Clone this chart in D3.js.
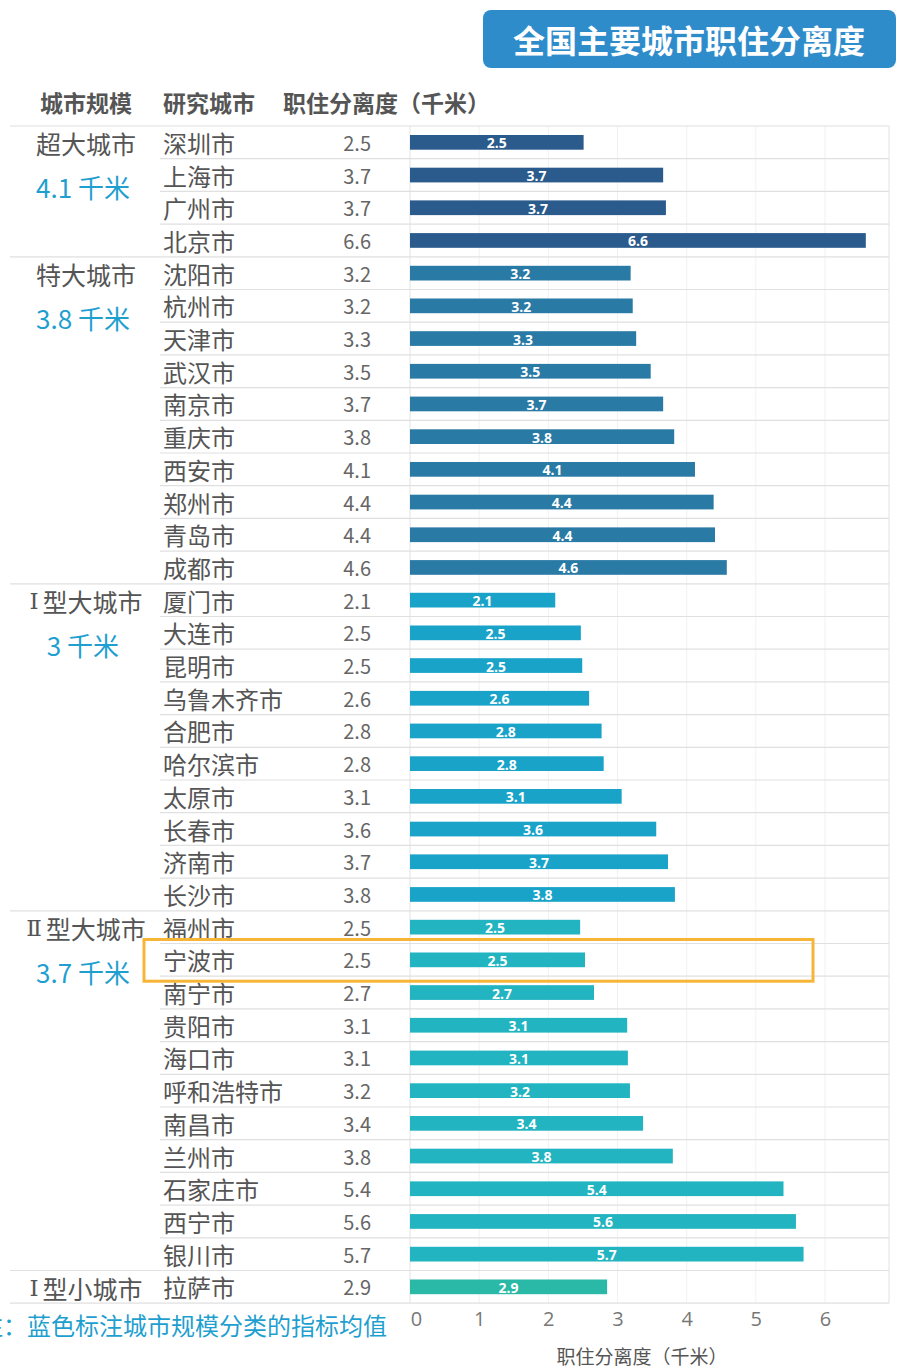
<!DOCTYPE html>
<html><head><meta charset="utf-8">
<script src="https://cdn.jsdelivr.net/npm/d3@7"></script>
<style>
html,body{margin:0;padding:0;background:#fff;}
svg{display:block;font-family:"Noto Sans CJK SC","Noto Sans",sans-serif;}
</style></head>
<body><svg id="c" width="900" height="1370"></svg>
<script>
const cities = ["深圳市","上海市","广州市","北京市","沈阳市","杭州市","天津市","武汉市","南京市","重庆市","西安市","郑州市","青岛市","成都市","厦门市","大连市","昆明市","乌鲁木齐市","合肥市","哈尔滨市","太原市","长春市","济南市","长沙市","福州市","宁波市","南宁市","贵阳市","海口市","呼和浩特市","南昌市","兰州市","石家庄市","西宁市","银川市","拉萨市"];
const values = [2.51,3.66,3.70,6.59,3.19,3.22,3.27,3.48,3.66,3.82,4.12,4.39,4.41,4.58,2.10,2.47,2.49,2.59,2.77,2.80,3.06,3.56,3.73,3.83,2.46,2.53,2.66,3.14,3.15,3.18,3.37,3.80,5.40,5.58,5.69,2.85];
const groupNames = ["超大城市","特大城市","Ⅰ型大城市","Ⅱ型大城市","Ⅰ型小城市"];
const groupSizes = [4,10,10,11,1];
const groupMeans = ["4.1 千米","3.8 千米","3 千米","3.7 千米",""];
const groupColors = ["#2a5b8c","#2a7aa6","#1aa3c9","#22b4c0","#2bb9a7"];
const xTicks = [0,1,2,3,4,5,6];
const highlightCity = "宁波市";

const svg = d3.select("#c");
const topY = 126, rowH = 32.7, n = cities.length;
const y = d3.scaleBand().domain(d3.range(n)).range([topY, topY + rowH*n]).paddingInner(0.55).paddingOuter(0.275);
const x = d3.scaleLinear().domain([0,6]).range([410, 825]);
const right = 889;

const groupOf = [];
groupSizes.forEach((s,g)=>{ for(let i=0;i<s;i++) groupOf.push(g); });
const starts = [];
let acc = 0; groupSizes.forEach(s=>{ starts.push(acc); acc+=s; });

// title
svg.append("rect").attr("x",483).attr("y",10).attr("width",413).attr("height",58).attr("rx",8).attr("fill","#2f8ccb");
svg.append("text").attr("x",689).attr("y",39).attr("text-anchor","middle").attr("dominant-baseline","central")
  .attr("fill","#fff").attr("font-size",32).attr("font-weight","bold").text("全国主要城市职住分离度");

// headers
const hdr = svg.append("g").attr("fill","#555").attr("font-size",23).attr("font-weight","bold");
hdr.append("text").attr("x",86).attr("y",102).attr("text-anchor","middle").attr("dominant-baseline","central").text("城市规模");
hdr.append("text").attr("x",209).attr("y",102).attr("text-anchor","middle").attr("dominant-baseline","central").text("研究城市");
hdr.append("text").attr("x",283).attr("y",102).attr("dominant-baseline","central").text("职住分离度（千米）");

// vertical grid
svg.append("g").selectAll("line").data(xTicks.slice(1)).join("line")
  .attr("x1",d=>x(d)).attr("x2",d=>x(d)).attr("y1",topY).attr("y2",topY+rowH*n)
  .attr("stroke","#f1f1f1").attr("stroke-width",1);
svg.append("line").attr("x1",x(0)).attr("x2",x(0)).attr("y1",topY).attr("y2",topY+rowH*n).attr("stroke","#e2e2e2");
svg.append("line").attr("x1",right).attr("x2",right).attr("y1",topY).attr("y2",topY+rowH*n).attr("stroke","#e2e2e2");

// row lines
const lines = svg.append("g");
for(let i=0;i<=n;i++){
  const isGroup = i===0 || i===n || starts.includes(i);
  lines.append("line").attr("x1", isGroup?10:160).attr("x2",right)
    .attr("y1",topY+rowH*i).attr("y2",topY+rowH*i)
    .attr("stroke","#e0e0e0").attr("stroke-width",1.2);
}

// group labels
groupNames.forEach((g,k)=>{
  const cy = topY + rowH*starts[k] + rowH/2;
  const t = svg.append("text").attr("x",86).attr("y",cy+1).attr("text-anchor","middle").attr("dominant-baseline","central")
    .attr("fill","#555").attr("font-size",25);
  const m = g.match(/^([ⅠⅡ])(.*)$/);
  if(m){
    t.append("tspan").attr("font-family","'DejaVu Serif','Liberation Serif',serif").attr("font-size",23).text(m[1]);
    t.append("tspan").attr("dx",4).text(m[2]);
  } else t.text(g);
  if(groupMeans[k]) svg.append("text").attr("x",83).attr("y",cy+44).attr("text-anchor","middle").attr("dominant-baseline","central")
    .attr("fill","#1f9fcf").attr("font-size",26).text(groupMeans[k]);
});

// city names & values
const rows = svg.append("g").selectAll("g").data(cities).join("g");
rows.append("text").attr("x",163).attr("y",(d,i)=>y(i)+y.bandwidth()/2).attr("dominant-baseline","central")
  .attr("fill","#555").attr("font-size",24).text(d=>d);
rows.append("text").attr("x",371).attr("y",(d,i)=>y(i)+y.bandwidth()/2).attr("dominant-baseline","central")
  .attr("text-anchor","end").attr("fill","#666").attr("font-size",20).text((d,i)=>values[i].toFixed(1));

// bars
svg.append("g").selectAll("rect").data(values).join("rect")
  .attr("x",x(0)).attr("y",(d,i)=>y(i)).attr("width",d=>x(d)-x(0)).attr("height",y.bandwidth())
  .attr("fill",(d,i)=>groupColors[groupOf[i]]);
svg.append("g").selectAll("text").data(values).join("text")
  .attr("x",d=>(x(0)+x(d))/2).attr("y",(d,i)=>y(i)+y.bandwidth()/2+0.5)
  .attr("text-anchor","middle").attr("dominant-baseline","central")
  .attr("fill","#fff").attr("font-size",14).attr("font-weight","bold")
  .attr("font-family","'Open Sans','DejaVu Sans',sans-serif").text(d=>d.toFixed(1));

// highlight box
const hi = cities.indexOf(highlightCity);
svg.append("rect").attr("x",144).attr("y",topY+rowH*hi-4).attr("width",669).attr("height",rowH+9)
  .attr("fill","none").attr("stroke","#f7b538").attr("stroke-width",3);

// x axis
const ax = svg.append("g").attr("transform",`translate(0,${topY+rowH*n})`)
  .call(d3.axisBottom(x).tickValues(xTicks).tickFormat(d3.format("d")).tickSize(0).tickPadding(8));
ax.select(".domain").remove();
ax.selectAll("text").attr("font-size",20).attr("fill","#777").attr("font-family","'Open Sans','Noto Sans',sans-serif")
  .attr("dx",(d)=>d===0?6:0).attr("dy","0.75em");
svg.append("text").attr("x",642).attr("y",1355).attr("text-anchor","middle").attr("dominant-baseline","central")
  .attr("fill","#555").attr("font-size",19).text("职住分离度（千米）");

// footnote (left edge cropped as in the reference)
svg.append("text").attr("x",-21).attr("y",1324).attr("dominant-baseline","central")
  .attr("fill","#1f9fcf").attr("font-size",24).text("注：蓝色标注城市规模分类的指标均值");
</script></body></html>
